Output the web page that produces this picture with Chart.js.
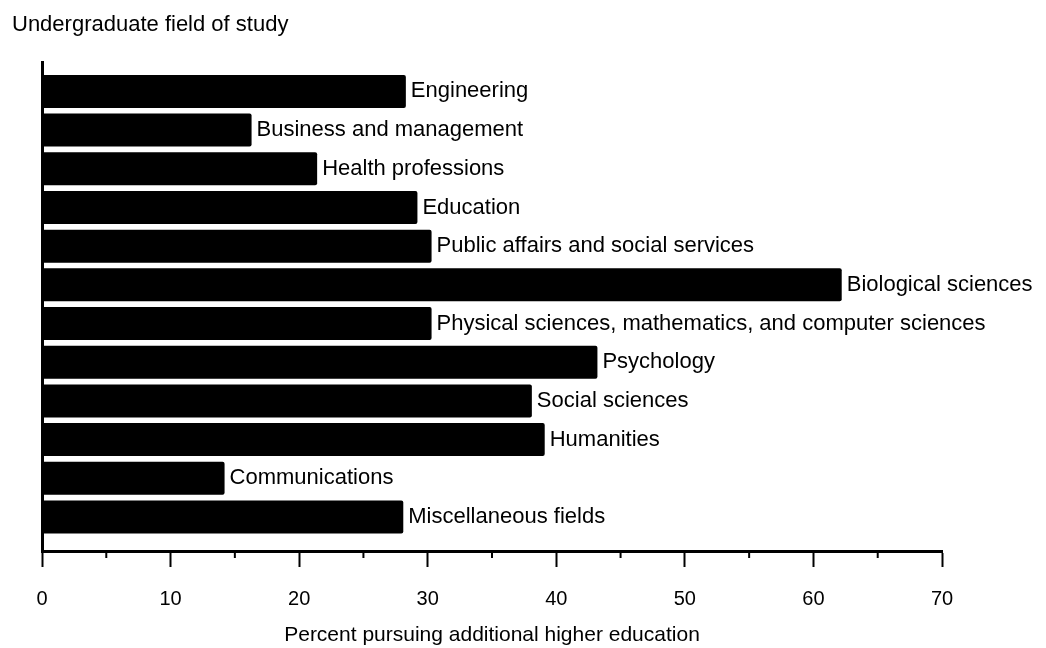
<!DOCTYPE html>
<html>
<head>
<meta charset="utf-8">
<title>Undergraduate field of study</title>
<script src="https://cdn.jsdelivr.net/npm/chart.js@4"></script>
<style>
  body { margin: 0; background: #fff; }
</style>
</head>
<body>
<canvas id="grafico" width="1046" height="648"></canvas>
<script>
// datos
const campos = [
  'Engineering',
  'Business and management',
  'Health professions',
  'Education',
  'Public affairs and social services',
  'Biological sciences',
  'Physical sciences, mathematics, and computer sciences',
  'Psychology',
  'Social sciences',
  'Humanities',
  'Communications',
  'Miscellaneous fields'
];
const porcentajes = [28.3, 16.3, 21.4, 29.2, 30.3, 62.2, 30.3, 43.2, 38.1, 39.1, 14.2, 28.1];
const marcasX = [0, 10, 20, 30, 40, 50, 60, 70];

const fuente = '"Liberation Sans", Arial, Helvetica, sans-serif';

// etiqueta al final de cada barra
const etiquetasBarras = {
  id: 'etiquetasBarras',
  afterDatasetsDraw(chart) {
    const ctx = chart.ctx;
    const meta = chart.getDatasetMeta(0);
    ctx.save();
    ctx.font = '22px ' + fuente;
    ctx.fillStyle = '#000';
    ctx.textBaseline = 'middle';
    ctx.textAlign = 'left';
    meta.data.forEach((barra, i) => {
      ctx.fillText(campos[i], barra.x + 5, barra.y);
    });
    ctx.restore();
  }
};

// marcas menores (cada 5) mas cortas
const marcasMenores = {
  id: 'marcasMenores',
  afterDraw(chart) {
    const escala = chart.scales.x;
    const ctx = chart.ctx;
    const abajo = chart.chartArea.bottom;
    ctx.save();
    ctx.strokeStyle = '#000';
    ctx.lineWidth = 2;
    escala.ticks.forEach(t => {
      if (marcasX.includes(t.value)) return;
      const px = escala.getPixelForValue(t.value);
      ctx.beginPath();
      ctx.moveTo(px, abajo);
      ctx.lineTo(px, abajo + 7);
      ctx.stroke();
    });
    ctx.restore();
  }
};

new Chart(document.getElementById('grafico'), {
  type: 'bar',
  data: {
    datasets: [{
      data: porcentajes.map((v, i) => ({ x: v, y: i })),
      backgroundColor: '#000',
      borderRadius: 2,
      barPercentage: 0.853,
      categoryPercentage: 1
    }]
  },
  options: {
    indexAxis: 'y',
    responsive: false,
    devicePixelRatio: 1,
    animation: false,
    layout: { padding: { left: 12, right: 104, top: 0, bottom: 0 } },
    plugins: {
      legend: { display: false },
      tooltip: { enabled: false },
      title: {
        display: true,
        text: 'Undergraduate field of study',
        align: 'start',
        color: '#000',
        font: { family: fuente, size: 22, weight: 'normal' },
        padding: { top: 12, bottom: 23.6 }
      }
    },
    scales: {
      x: {
        type: 'linear',
        min: 0,
        max: 70,
        border: { display: true, color: '#000', width: 3 },
        grid: {
          display: true,
          drawOnChartArea: false,
          drawTicks: true,
          tickLength: 16,
          tickWidth: 2,
          tickColor: c => (c.tick && marcasX.includes(c.tick.value)) ? '#000' : 'rgba(0,0,0,0)'
        },
        ticks: {
          stepSize: 5,
          color: '#000',
          padding: 20,
          maxRotation: 0,
          font: { family: fuente, size: 20 },
          callback: v => marcasX.includes(v) ? String(v) : ''
        },
        title: {
          display: true,
          text: 'Percent pursuing additional higher education',
          color: '#000',
          font: { family: fuente, size: 21 },
          padding: { top: -8.2, bottom: 0 }
        }
      },
      y: {
        type: 'linear',
        reverse: true,
        offset: false,
        min: -0.76,
        max: 11.88,
        border: { display: true, color: '#000', width: 3 },
        grid: { display: false },
        ticks: { display: false },
        // una marca por campo, para que el grosor de barra use 1 unidad
        afterBuildTicks: s => { s.ticks = campos.map((c, i) => ({ value: i })); },
        afterFit: s => { s.width = 30; }
      }
    }
  },
  plugins: [etiquetasBarras, marcasMenores]
});
</script>
</body>
</html>
